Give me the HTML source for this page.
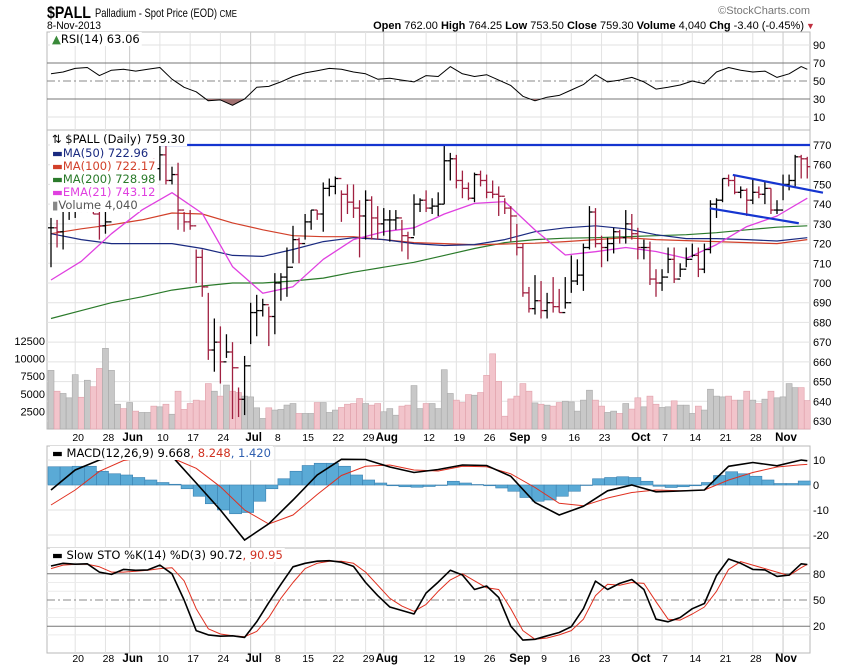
<!DOCTYPE html>
<html><head><meta charset="utf-8"><style>
html,body{margin:0;padding:0;background:#fff;}
svg{display:block;font-family:"Liberation Sans",sans-serif;}
</style></head><body>
<svg id="c" width="850" height="668" viewBox="0 0 850 668" xmlns="http://www.w3.org/2000/svg">
<g>
<text x="47" y="18" font-size="17" font-weight="bold" textLength="44" lengthAdjust="spacingAndGlyphs">$PALL</text>
<text x="95" y="17" font-size="12" textLength="142" lengthAdjust="spacingAndGlyphs">Palladium - Spot Price (EOD) <tspan font-size="10">CME</tspan></text>
<text x="810" y="14" font-size="11" fill="#777" text-anchor="end">©StockCharts.com</text>
<text x="47" y="29" font-size="11" textLength="54" lengthAdjust="spacingAndGlyphs">8-Nov-2013</text>
<text x="804" y="29" font-size="11" text-anchor="end"><tspan font-weight="bold">Open</tspan> 762.00 <tspan font-weight="bold">High</tspan> 764.25 <tspan font-weight="bold">Low</tspan> 753.50 <tspan font-weight="bold">Close</tspan> 759.30 <tspan font-weight="bold">Volume</tspan> 4,040 <tspan font-weight="bold">Chg</tspan> -3.40 (-0.45%)</text>
<text x="806" y="29" font-size="9" fill="#c03040">▼</text>
</g>
<g id="grid"></g>
<g id="marks"></g>
<g id="labels"></g>
</svg>
<script>
// ---- data ----
const highs=[733,732,742,742,742,742,741,742,740,742,748,752,747,752,761,758,762,763,770,770,759,761,736,737,717,717,695,682,678,674,670,647,663,690,694,692,688,705,705,718,729,723,735,737,737,751,753,754,747,750,750,742,747,744,739,738,737,737,732,726,745,743,747,743,746,770,766,765,757,751,756,757,755,752,749,743,739,730,720,698,704,701,695,703,697,703,714,712,720,739,738,724,723,728,727,737,735,728,722,721,707,707,718,718,710,718,720,718,720,742,743,753,755,755,749,748,753,749,752,748,742,755,755,765,765,764];
const lows=[708,718,717,732,733,736,736,735,722,725,738,742,741,740,745,751,751,745,752,750,750,727,726,727,700,693,661,655,649,662,631,632,633,669,673,683,668,674,691,693,710,710,722,727,732,726,744,745,731,735,733,713,722,722,722,724,721,727,716,712,724,736,736,735,734,740,752,748,743,742,741,749,743,743,734,735,721,714,693,685,684,682,682,685,685,687,695,699,696,717,718,708,711,715,720,720,722,712,712,699,693,696,705,700,703,708,713,703,705,715,733,741,749,745,743,734,740,743,740,735,735,742,747,749,753,753];
const closes=[728,726,738,740,741,739,739,735,729,731,745,750,743,752,747,755,760,758,765,752,755,737,731,729,713,698,666,670,660,665,657,641,658,685,686,689,683,700,703,708,722,720,731,737,735,748,749,753,745,741,738,734,742,733,730,732,732,733,724,723,740,742,738,739,740,762,763,752,748,743,755,752,746,745,744,738,734,718,695,687,691,686,690,688,685,690,701,704,718,736,720,718,720,726,723,730,725,718,718,702,700,703,712,702,707,712,714,707,717,740,742,753,752,746,747,742,746,745,748,737,737,750,752,764,763,759];
const volumes=[8330,5370,5050,4430,7720,4510,6930,6000,8600,11460,8330,3520,2900,3760,2540,2350,2350,3250,3150,3520,2100,5370,2780,3620,4100,4000,6450,5370,4670,6240,5370,5180,4670,4560,3010,1500,3010,2690,2780,3400,3620,2210,2210,2210,3760,3760,2350,2690,3060,3520,3620,4330,3620,3390,3620,2450,2900,1960,3250,3390,6170,2900,3620,3620,2900,8420,5050,4100,3760,4890,4800,5180,7620,10680,6780,1820,4270,4670,6450,5370,3710,3520,3390,3250,3760,3950,3850,2540,4100,5510,4100,3250,2350,2540,2210,3620,2830,4430,3150,4670,3520,3060,3150,4000,3390,3390,2210,3250,2690,5650,4670,4560,4670,4100,4100,5370,4100,3620,4240,5370,4430,4560,6450,5880,5880,4040];
// moving averages sampled every 5 sessions
const ma50=[725,722,720,720,720,717.5,714,713.5,717,721,723,722,720,719,719.5,722,726,728,729,727.5,724.5,722.5,722.5,722,721.3,723];
const ma100=[725,727.5,729.5,732,735.5,735,730.5,727,724,723.5,723.5,722,720.5,720,719.3,719.8,720.2,721,722,723,722,721.5,721,720.5,720,722];
const ma200=[682,686,690,693,696.4,698.5,700,700,701,702.5,705.5,708,710.5,714,717.5,720.5,722,722.7,723,723.5,724,724.5,725.5,727,728.3,729];
const ema21=[701.5,711,725,737,745.8,735.3,708.3,694.8,698.1,712,722,726,728,735,740.4,741.3,726.9,714.2,715.9,718,716,712.5,719.5,728.6,734,743];
// RSI, STO sampled every 2 sessions
const rsi=[58,60,64,65,56,62,63,61,63,65,52,43,38,28,29,23,30,43,44,49,55,59,61.5,64,63,60,58,52,53,51,49,56,55,66,58,55,57,51,45,33,28,32,34,40,46,57,49,51,54,49,41,43,45.6,50,47,60,65,62,60,61,54,58,66,63];
const stoK=[89,92,91,91.5,82,79.3,85,84,84.5,90,80,50,15,10,8.5,9,7.2,25,47,68,88,92,94.5,95,93.3,88.5,70,55,42,38,34,58,70.5,84,78.6,62,66,53,20,4.1,5,9,12.8,19.4,40,71.7,62,69,73.5,62,28,25,30,40,46,78,97,92,85,84.5,77,78.5,91.5,90.7];
const stoD=[86,90,91,91,88,82,82,83,84,86,87,72,40,17,11,9,8,14,30,52,70,86,92,94.5,94.5,92,82,67,52,43,37,45,60,73,80,72,64,62,40,15,5,6.5,10,15,28,55,68,67,70,69,48,28,27,34,42,60,85,94,90,86,82,78,87,90.95];
// MACD sampled every 4 sessions, histogram every 2
const macdLine=[-2,6,10,11.5,12.5,11.5,0.8,-10,-22,-15.5,-6,4,10.3,10.2,7.2,5,6.2,8,7.8,3.5,-7,-12,-8.5,-2.3,0,-2.7,-2.4,-2,7.5,9,7.7,10,9.67];
const macdSignal=[-8,-2,5.5,9.8,11.3,10.8,6.7,-0.7,-10,-15.6,-12,-3.8,3.8,7.5,8,6,5.6,7.5,7.3,4.5,-1,-7.3,-8.3,-5.2,-3,-2,-2.3,-2,2,5,7.2,8.1,8.25];
const macdHist=[7.3,7.3,7.5,7.5,5.5,4.5,4,3,2,1,0.3,-1.5,-4.5,-7.5,-10,-11.5,-11,-6.5,-1.5,2.5,5.5,7.8,8.7,8.7,7.5,4,2,0.8,-0.3,-0.7,-0.9,-0.6,0,1.5,0.8,0.2,-0.3,-1.2,-2.5,-5,-6.5,-6,-4.5,-2.5,0,2.5,3,3.3,3,1.5,-0.5,-1,-0.7,-0.3,1,3.8,5.3,4.5,3.5,2,0.6,0.6,1.6];
const dateLabels=["20","28","Jun","10","17","24","Jul","8","15","22","29","Aug","12","19","26","Sep","9","16","23","Oct","7","14","21","28","Nov"];
const dateIdx=[4,9,13,18,23,28,33,37,42,47,52,55,62,67,72,77,81,86,91,97,101,106,111,116,121];
const priceTicks=[770,760,750,740,730,720,710,700,690,680,670,660,650,640,630];
const volTicks=[12500,10000,7500,5000,2500];
const rsiTicks=[90,70,50,30,10];
const macdTicks=[10,0,-10,-20];
const stoTicks=[80,50,20];
const resistance=770;
const channelUpper=[[112.7,754.8],[127.6,745.8]];
const channelLower=[[108.9,737.9],[123.6,730.3]];

// ---- axes ----
const L=47,R=810,N=closes.length;
const X=i=>51+i*6.05;
const PY=v=>145+(770-v)*1.9714;
const VY=v=>429-v/2500*17.6;
const RY=v=>45+(90-v)*0.9;
const MY=v=>485-v*2.5;
const SY=v=>600-(v-50)*0.873;
const NS="http://www.w3.org/2000/svg";
function mk(tag,attrs,parent){const e=document.createElementNS(NS,tag);for(const k in attrs)e.setAttribute(k,attrs[k]);parent.appendChild(e);return e;}
const grid=document.getElementById('grid'),marks=document.getElementById('marks'),labels=document.getElementById('labels');
const panels=[[32,130,'rsi-panel'],[130,429,'price-panel'],[446,548,'macd-panel'],[548,653,'sto-panel']];
panels.forEach(p=>{
  const r=mk('rect',{x:L,y:p[0],width:R-L,height:p[1]-p[0],fill:'#fff',stroke:'#b8b8b8','stroke-width':1},grid);
  
  
});
dateIdx.forEach((d,k)=>{
  const isMonth=isNaN(+dateLabels[k]);
  panels.forEach(p=>{mk('line',{x1:X(d),x2:X(d),y1:p[0],y2:p[1],stroke:isMonth?'#c8c8c8':'#e2e2e2'},grid);});
});
priceTicks.forEach(v=>{mk('line',{x1:L,x2:R,y1:PY(v),y2:PY(v),stroke:'#e2e2e2'},grid);
  const t=mk('text',{x:813,y:PY(v)+4,'font-size':11},labels);t.textContent=v;
  
  });
volTicks.forEach(v=>{const t=mk('text',{x:45,y:VY(v)+4,'font-size':11,'text-anchor':'end'},labels);t.textContent=v;
  
  });
[90,10].forEach(v=>mk('line',{x1:L,x2:R,y1:RY(v),y2:RY(v),stroke:'#e2e2e2'},grid));
[70,30].forEach(v=>mk('line',{x1:L,x2:R,y1:RY(v),y2:RY(v),stroke:'#777'},grid));
mk('line',{x1:L,x2:R,y1:RY(50),y2:RY(50),stroke:'#888','stroke-dasharray':'8,3,2,3'},grid);
rsiTicks.forEach(v=>{const t=mk('text',{x:813,y:RY(v)+4,'font-size':11},labels);t.textContent=v;
  
  });
macdTicks.forEach(v=>{mk('line',{x1:L,x2:R,y1:MY(v),y2:MY(v),stroke:'#e2e2e2'},grid);
  const t=mk('text',{x:813,y:MY(v)+4,'font-size':11},labels);t.textContent=v;
  
  });
[90,70,60,40,30,10].forEach(v=>mk('line',{x1:L,x2:R,y1:SY(v),y2:SY(v),stroke:'#ececec'},grid));
[80,20].forEach(v=>mk('line',{x1:L,x2:R,y1:SY(v),y2:SY(v),stroke:'#777'},grid));
mk('line',{x1:L,x2:R,y1:SY(50),y2:SY(50),stroke:'#888','stroke-dasharray':'8,3,2,3'},grid);
stoTicks.forEach(v=>{const t=mk('text',{x:813,y:SY(v)+4,'font-size':11},labels);t.textContent=v;
  
  });
[[441,'date-axis-top'],[662,'date-axis-bottom']].forEach(a=>{
  dateIdx.forEach((d,k)=>{const isMonth=isNaN(+dateLabels[k]);
    const t=mk('text',{x:X(d)+3,y:a[0],'font-size':isMonth?11.5:10.5,'font-weight':isMonth?'bold':'normal','text-anchor':'middle'},labels);
    t.textContent=dateLabels[k];
    
    });
});
volumes.forEach((v,i)=>{
  const up=i===0||closes[i]>=closes[i-1];
  const r=mk('rect',{x:X(i)-3,y:VY(v),width:6,height:429-VY(v),fill:up?'#c8c8c8':'#f2c4cb',stroke:up?'#a8a8a8':'#e0a0aa','stroke-width':0.6},marks);
  
  
});
function line(arr,step,fx,col,w,name){
  const pts=arr.map((v,k)=>X(Math.min(k*step,N-1)).toFixed(1)+','+fx(v).toFixed(1)).join(' ');
  const p=mk('polyline',{points:pts,fill:'none',stroke:col,'stroke-width':w,'stroke-linejoin':'round'},marks);
  
  
  return pts;
}
line(ma200,5,PY,'#2a7a2a',1.2,'ma200-line');
line(ma100,5,PY,'#d2402a',1.2,'ma100-line');
line(ma50,5,PY,'#1a2a80',1.2,'ma50-line');
line(ema21,5,PY,'#e040e0',1.3,'ema21-line');
closes.forEach((c,i)=>{
  const o=i===0?c:closes[i-1];
  const col=c>=o?'#000':'#a02040';
  const g=mk('g',{stroke:col,'stroke-width':1.3},marks);
  
  
  mk('line',{x1:X(i),x2:X(i),y1:PY(highs[i]),y2:PY(lows[i])},g);
  mk('line',{x1:X(i)-3,x2:X(i),y1:PY(o),y2:PY(o)},g);
  mk('line',{x1:X(i),x2:X(i)+3,y1:PY(c),y2:PY(c)},g);
});
const res=mk('line',{x1:160,x2:R,y1:PY(resistance),y2:PY(resistance),stroke:'#1535d0','stroke-width':2.2},marks);


[[channelUpper,'channel-upper-line'],[channelLower,'channel-lower-line']].forEach(c=>{
  const l=mk('line',{x1:X(c[0][0][0]),y1:PY(c[0][0][1]),x2:X(c[0][1][0]),y2:PY(c[0][1][1]),stroke:'#1535d0','stroke-width':2.2},marks);
  
  
});
const rpts=rsi.map((v,k)=>[X(Math.min(k*2,N-1)),RY(v)]);
const clip=mk('clipPath',{id:'below30'},marks);
mk('rect',{x:L,y:RY(30),width:R-L,height:130-RY(30)},clip);
const sh=mk('polygon',{points:rpts.map(p=>p.join(',')).join(' ')+` ${rpts[rpts.length-1][0]},${RY(30)} ${rpts[0][0]},${RY(30)}`,fill:'#a07070','clip-path':'url(#below30)'},marks);


line(rsi,2,RY,'#000',1,'rsi-line');
macdHist.forEach((v,k)=>{
  const i=k*2,y0=MY(0),y1=MY(v);
  const r=mk('rect',{x:X(i)-3,y:Math.min(y0,y1),width:12.1,height:Math.abs(y1-y0)||0.5,fill:'#5aaad6',stroke:'#3a80b0','stroke-width':0.6},marks);
  
  
});
const mc=mk('clipPath',{id:'mclip'},marks);mk('rect',{x:L,y:447,width:R-L,height:100},mc);
const mg=mk('g',{'clip-path':'url(#mclip)'},marks);
[[macdSignal,'#e03020',1,'macd-signal-line'],[macdLine,'#000',1.6,'macd-line']].forEach(s=>{
  const pts=s[0].map((v,k)=>X(Math.min(k*4,N-1)).toFixed(1)+','+MY(v).toFixed(1)).join(' ');
  const p=mk('polyline',{points:pts,fill:'none',stroke:s[1],'stroke-width':s[2]},mg);
  
  
});
line(stoD,2,SY,'#e03020',1,'sto-d-line');
line(stoK,2,SY,'#000',1.6,'sto-k-line');

function legend(x,y,parts,name){
  const t=mk('text',{x:x,y:y,'font-size':11.5,'font-family':'"DejaVu Sans",sans-serif'},labels);
  parts.forEach(p=>{const s=mk('tspan',{fill:p[1]},t);s.textContent=p[0];});
  
  
  const bb=t.getBBox();
  const bg=mk('rect',{x:bb.x-2,y:bb.y,width:bb.width+4,height:bb.height,fill:'#fff'},labels);
  labels.insertBefore(bg,t);
}
legend(52,43,[['▲','#3a8a3a'],['RSI(14) 63.06','#000']],'rsi-legend');
legend(52,143,[['⇅ $PALL (Daily) 759.30','#000']],'price-legend');
legend(52,157,[['▬','#1a2a80'],['MA(50) 722.96','#1a2a80']],'legend-ma50');
legend(52,170,[['▬','#d2402a'],['MA(100) 722.17','#d2402a']],'legend-ma100');
legend(52,183,[['▬','#2a7a2a'],['MA(200) 728.98','#2a7a2a']],'legend-ma200');
legend(52,196,[['▬','#e040e0'],['EMA(21) 743.12','#e040e0']],'legend-ema21');
legend(52,209,[['▮','#888'],['Volume 4,040','#555']],'legend-volume');
legend(52,457,[['▬ MACD(12,26,9) 9.668','#000'],[', 8.248','#d03020'],[', 1.420','#3060b0']],'macd-legend');
legend(52,559,[['▬ Slow STO %K(14) %D(3) 90.72','#000'],[', 90.95','#d03020']],'sto-legend');
</script>
</body></html>
